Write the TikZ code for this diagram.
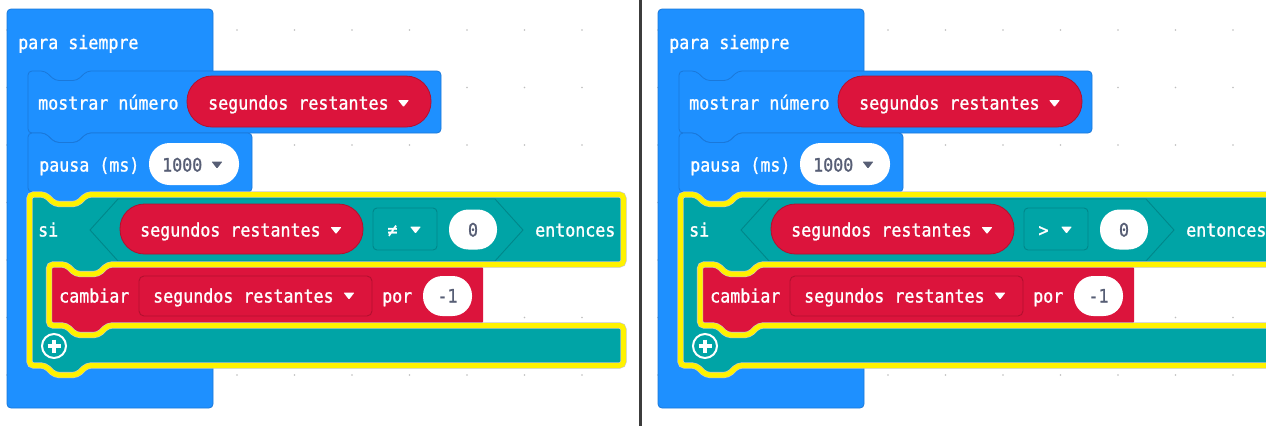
\documentclass[tikz,border=0pt]{standalone}
\usepackage{fontspec}
\newfontfamily\blockfont[FakeStretch=0.9, FakeBold=1.2]{DejaVu Sans Mono}
\definecolor{loopblue}{HTML}{1E90FF}
\definecolor{loopedge}{HTML}{1A78DA}
\definecolor{varred}{HTML}{DC143C}
\definecolor{varedge}{HTML}{B3102F}
\definecolor{logic}{HTML}{00A4A6}
\definecolor{logicedge}{HTML}{00878A}
\definecolor{hilite}{HTML}{FFF200}
\definecolor{fieldtxt}{HTML}{575E75}
\definecolor{griddot}{HTML}{BEBEBE}
\definecolor{divider}{HTML}{3C3C3C}
\tikzset{
  txt/.style={font=\blockfont\fontsize{18.5}{20}\selectfont, text=white, inner sep=0pt, anchor=base west},
  ftxt/.style={txt, text=fieldtxt},
  blk/.style={rounded corners=4pt, line width=0.8pt},
}
\newcommand{\ifshape}{(29.5,194.5) -- (45,194.5) -- (55,204) -- (77,204) -- (87,194.5) -- (623.5,194.5) -- (623.5,264.5) -- (108,264.5) -- (98,274) -- (76,274) -- (66,264.5) -- (49,264.5) -- (49,325.5) -- (66,325.5) -- (76,335) -- (98,335) -- (108,325.5) -- (623.5,325.5) -- (623.5,365.5) -- (87,365.5) -- (77,375) -- (55,375) -- (45,365.5) -- (29.5,365.5) -- cycle}
\newcommand{\ddarrow}[3]{\fill[#3, rounded corners=0.8pt] (#1-5.5,#2-3.5) -- (#1+5.5,#2-3.5) -- (#1,#2+3.5) -- cycle;}
\newcommand{\mkpanel}[3]{%
\begin{scope}[xshift=#1pt]
  % workspace grid dots
  \foreach \i in {0,...,10} \foreach \j in {0,...,7} \fill[griddot] (7+57.5*\i, 30+57.5*\j) circle (0.8pt);
  % para siempre (C block)
  \path[blk, fill=loopblue, draw=loopedge] (7,9) rectangle (213,408);
  % mostrar numero
  \path[blk, fill=loopblue, draw=loopedge] (28,71) -- (45,71) -- (55,80.5) -- (77,80.5) -- (87,71) -- (441,71) -- (441,133) -- (87,133) -- (77,142.5) -- (55,142.5) -- (45,133) -- (28,133) -- cycle;
  \path[fill=varred, draw=varedge, line width=0.8pt, rounded corners=25pt] (187,76) rectangle (431,127);
  % pausa
  \path[blk, fill=loopblue, draw=loopedge] (28,133) -- (45,133) -- (55,142.5) -- (77,142.5) -- (87,133) -- (252,133) -- (252,192) -- (87,192) -- (77,201.5) -- (55,201.5) -- (45,192) -- (28,192) -- cycle;
  \path[fill=white, rounded corners=20.5pt] (149,143) rectangle (239,185);
  % si ... entonces
  \path[fill=logic, rounded corners=4pt] \ifshape;
  \path[fill=logic, draw=logicedge, line width=0.9pt] (90,230) -- (118,199) -- (495,199) -- (523,230) -- (495,261) -- (118,261) -- cycle;
  \path[fill=varred, draw=varedge, line width=0.8pt, rounded corners=24.5pt] (120,204) rectangle (363,254);
  \path[fill=logic, draw=logicedge, line width=0.9pt, rounded corners=4pt] (373,208) rectangle (437,250);
  \path[fill=white, rounded corners=19.5pt] (449,209.5) rectangle (497,249.5);
  % cambiar
  \path[fill=varred, rounded corners=4pt] (49,264.5) -- (66,264.5) -- (76,274) -- (98,274) -- (108,264.5) -- (483,264.5) -- (483,325.5) -- (108,325.5) -- (98,335) -- (76,335) -- (66,325.5) -- (49,325.5) -- cycle;
  \path[fill=varred, draw=varedge, line width=0.9pt, rounded corners=5pt] (139,276) rectangle (372,316);
  \path[fill=white, rounded corners=19.5pt] (423,276) rectangle (472,316);
  % plus icon
  \draw[white, line width=2pt] (54,346) circle (12pt);
  \draw[white, line width=3.8pt] (54,339.5) -- (54,352.5) (47.5,346) -- (60.5,346);
  % selection highlight
  \path[draw=gray!45, line width=6.2pt, rounded corners=4pt] \ifshape;
  \path[draw=hilite, line width=5pt, rounded corners=4pt] \ifshape;
  % dropdown arrows
  \ddarrow{403.5}{103.5}{white}
  \ddarrow{217}{165}{fieldtxt}
  \ddarrow{336}{230.5}{white}
  \ddarrow{415.5}{230}{white}
  \ddarrow{349}{296}{white}
  % texts
  \node[txt] (forever#2) at (18,49) {para siempre};
  \node[txt] (show#2) at (38,109.5) {mostrar número};
  \node[txt] (showvar#2) at (208,109.5) {segundos restantes};
  \node[txt] (pause#2) at (39,171.5) {pausa (ms)};
  \node[ftxt] (pauseval#2) at (162,171.5) {1000};
  \node[txt] (if#2) at (38,236.5) {si};
  \node[txt] (ifvar#2) at (140,236.5) {segundos restantes};
  \node[txt, anchor=base] (op#2) at (392.5,236.5) {#3};
  \node[ftxt, anchor=base] (zero#2) at (473,236.5) {0};
  \node[txt] (then#2) at (535,236.5) {entonces};
  \node[txt] (change#2) at (59,302.5) {cambiar};
  \node[txt] (chvar#2) at (153,302.5) {segundos restantes};
  \node[txt] (by#2) at (382,302.5) {por};
  \node[ftxt, anchor=base] (minus#2) at (447.5,302.5) {-1};
\end{scope}}
\begin{document}
\begin{tikzpicture}[x=1pt, y=-1pt]
  \useasboundingbox (0,0) rectangle (1266,426);
  \fill[white] (0,0) rectangle (1266,426);
  \begin{scope}
    \clip (0,0) rectangle (638.8,426);
    \mkpanel{0}{L}{≠}
  \end{scope}
  \begin{scope}
    \clip (641.6,0) rectangle (1266,426);
    \mkpanel{651}{R}{>}
  \end{scope}
  \fill[divider] (638.8,0) rectangle (641.6,426);
\end{tikzpicture}
\end{document}
